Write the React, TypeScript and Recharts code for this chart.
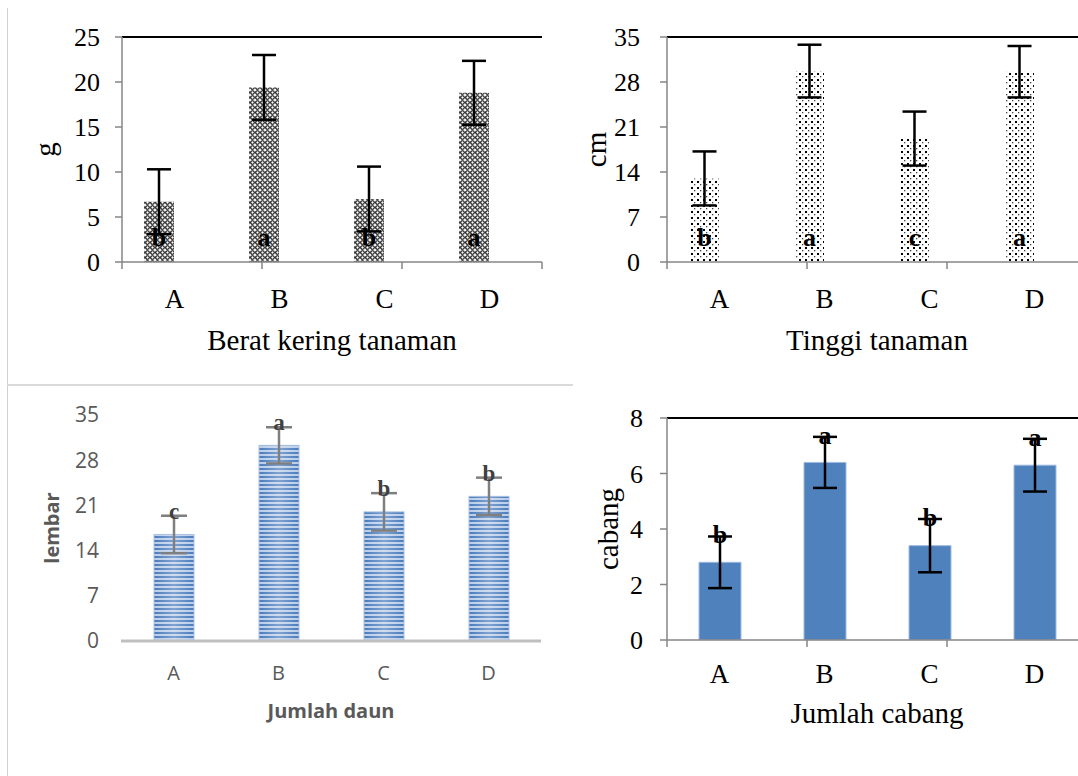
import React from 'react';
import { BarChart, Bar, XAxis, YAxis, ErrorBar, LabelList, Label, ReferenceLine } from 'recharts';

const categories = ['A', 'B', 'C', 'D'];

// Berat kering tanaman (g)
const beratValues = [6.7, 19.4, 7.0, 18.8];
const beratErrors = [3.6, 3.6, 3.6, 3.55];
const beratNotes = ['b', 'a', 'b', 'a'];
const beratTicks = [0, 5, 10, 15, 20, 25];

// Tinggi tanaman (cm)
const tinggiValues = [13.0, 29.7, 19.2, 29.6];
const tinggiErrors = [4.2, 4.1, 4.2, 4.0];
const tinggiNotes = ['b', 'a', 'c', 'a'];
const tinggiTicks = [0, 7, 14, 21, 28, 35];

// Jumlah daun (lembar)
const daunValues = [16.5, 30.3, 20.0, 22.4];
const daunErrors = [2.9, 2.8, 2.9, 2.9];
const daunNotes = ['c', 'a', 'b', 'b'];
const daunTicks = [0, 7, 14, 21, 28, 35];

// Jumlah cabang
const cabangValues = [2.8, 6.4, 3.4, 6.3];
const cabangErrors = [0.93, 0.92, 0.96, 0.95];
const cabangNotes = ['b', 'a', 'b', 'a'];
const cabangTicks = [0, 2, 4, 6, 8];

// category boundaries, for the tick marks between the bars
const boundaryTicks = [0, 1, 2, 3, 4];

const SERIF = '"Liberation Serif", "Times New Roman", serif';
const SANS = '"Open Sans", "Noto Sans", sans-serif';
const AXIS_GRAY = '#868686';

// empty second series of the original Excel charts (keeps the bars left of centre)
type Row = { name: string; value: number; err: number; note: string; ghost: number };

const makeRows = (values: number[], errors: number[], notes: string[]): Row[] =>
  categories.map((name, i) => ({ name, value: values[i], err: errors[i], note: notes[i], ghost: 0 }));

const noTick = () => <g />;

// letters of the significance test: 'bottom' = inside the bar, otherwise relative to the error bar top
const noteContent = (rows: Row[], mode: 'bottom' | 'err', offset: number, font: string, size: number, color: string) =>
  (p: any) => {
    const row = rows[p.index ?? 0];
    const x = Number(p.x) + Number(p.width) / 2;
    let y: number;
    if (mode === 'bottom') {
      y = Number(p.y) + Number(p.height) + offset;
    } else {
      const perUnit = Number(p.height) / row.value;
      y = Number(p.y) - row.err * perUnit + offset;
    }
    return (
      <text x={x} y={y} textAnchor="middle" fontFamily={font} fontSize={size} fontWeight="bold" fill={color}>
        {p.value}
      </text>
    );
  };

interface SerifPanelProps {
  id: string;
  rows: Row[];
  ticks: number[];
  yTitle: string;
  xTitle: string;
  left: number;
  top: number;
  width: number;
  height: number;
  plotTop: number;
  plotLeft: number;
  plotRight: number;
  xAxisHeight: number;
  barSize: number;
  ghost?: boolean;
  fill: string;
  stroke?: string;
  noteMode: 'bottom' | 'err';
  noteOffset: number;
  tickGap: number;
  labelDy: number;
  titleDy: number;
  yTitleDx: number;
  defs?: React.ReactNode;
}

const SerifPanel: React.FC<SerifPanelProps> = (props) => {
  const { rows, ticks } = props;
  const max = ticks[ticks.length - 1];
  return (
    <div style={{ position: 'absolute', left: props.left, top: props.top }}>
      <BarChart
        width={props.width}
        height={props.height}
        data={rows}
        barGap={2}
        margin={{ top: props.plotTop, right: props.width - props.plotRight, bottom: 0, left: 0 }}
      >
        {props.defs}
        <XAxis
          xAxisId="category"
          dataKey="name"
          axisLine={false}
          tickLine={false}
          tickSize={0}
          tickMargin={0}
          interval={0}
          height={props.xAxisHeight - 1}
          tick={(p: any) => (
            <text x={p.x} y={p.y + props.labelDy} textAnchor="middle" fontFamily={SERIF} fontSize={27} fill="#000">
              {p.payload.value}
            </text>
          )}
        >
          <Label
            content={(p: any) => (
              <text
                x={p.viewBox.x + p.viewBox.width / 2}
                y={p.viewBox.y + props.titleDy}
                textAnchor="middle"
                fontFamily={SERIF}
                fontSize={29}
                fill="#000"
              >
                {props.xTitle}
              </text>
            )}
          />
        </XAxis>
        <XAxis
          xAxisId="boundary"
          type="number"
          domain={[0, 4]}
          ticks={boundaryTicks}
          allowDataOverflow
          tick={noTick}
          tickLine={{ stroke: AXIS_GRAY, strokeWidth: 1.5 }}
          tickSize={7}
          height={1}
          stroke={AXIS_GRAY}
          strokeWidth={1.5}
        />
        <YAxis
          type="number"
          domain={[0, max]}
          ticks={ticks}
          allowDataOverflow
          interval={0}
          width={props.plotLeft}
          stroke={AXIS_GRAY}
          strokeWidth={1.5}
          tickSize={7}
          tickMargin={props.tickGap - 7}
          tick={(p: any) => (
            <text x={p.x} y={p.y} dy="0.35em" textAnchor="end" fontFamily={SERIF} fontSize={26} fill="#000">
              {p.payload.value}
            </text>
          )}
        >
          <Label
            content={(p: any) => {
              const cx = p.viewBox.x + p.viewBox.width - props.yTitleDx;
              const cy = p.viewBox.y + p.viewBox.height / 2;
              return (
                <text
                  transform={`translate(${cx},${cy}) rotate(-90)`}
                  dy="0.35em"
                  textAnchor="middle"
                  fontFamily={SERIF}
                  fontSize={29}
                  fill="#000"
                >
                  {props.yTitle}
                </text>
              );
            }}
          />
        </YAxis>
        <ReferenceLine xAxisId="boundary" y={max} stroke="#000" strokeWidth={2} />
        <ReferenceLine xAxisId="boundary" x={4} stroke="#000" strokeWidth={2} />
        <Bar
          xAxisId="category"
          dataKey="value"
          fill={props.fill}
          stroke={props.stroke ?? 'none'}
          barSize={props.barSize}
          isAnimationActive={false}
        >
          <ErrorBar dataKey="err" width={12} strokeWidth={2.5} stroke="#000" />
          <LabelList dataKey="note" content={noteContent(rows, props.noteMode, props.noteOffset, SERIF, 26, '#000')} />
        </Bar>
        {props.ghost && (
          <Bar xAxisId="category" dataKey="ghost" fill="none" barSize={props.barSize} isAnimationActive={false} />
        )}
      </BarChart>
    </div>
  );
};

const StripedBar = (p: any) => {
  const { x, y, width, height } = p;
  if (!height || height <= 0) return null;
  return (
    <g>
      <rect x={x} y={y} width={width} height={height} fill="url(#daunStripes)" />
      <rect x={x} y={y} width={width} height={height} fill="url(#daunShine)" />
      <rect x={x} y={y} width={width} height={height} fill="none" stroke="#a9c1e3" strokeWidth={1} />
    </g>
  );
};

const DaunPanel: React.FC = () => {
  const rows = makeRows(daunValues, daunErrors, daunNotes);
  return (
    <div style={{ position: 'absolute', left: 0, top: 380 }}>
      <BarChart width={560} height={396} data={rows} margin={{ top: 35, right: 19, bottom: 0, left: 0 }}>
        <defs>
          <pattern id="daunStripes" width="6" height="4" patternUnits="userSpaceOnUse">
            <rect width="6" height="4" fill="#b9cde9" />
            <rect width="6" height="2" fill="#4a7bbd" />
          </pattern>
          <linearGradient id="daunShine" x1="0" y1="0" x2="1" y2="0">
            <stop offset="0" stopColor="#ffffff" stopOpacity={0} />
            <stop offset="0.5" stopColor="#ffffff" stopOpacity={0.3} />
            <stop offset="1" stopColor="#ffffff" stopOpacity={0} />
          </linearGradient>
        </defs>
        <XAxis
          dataKey="name"
          stroke="#bfbfbf"
          strokeWidth={3}
          tickLine={false}
          tickSize={0}
          tickMargin={0}
          interval={0}
          height={135}
          tick={(p: any) => (
            <text x={p.x} y={p.y + 39} textAnchor="middle" fontFamily={SANS} fontSize={20} fill="#595959">
              {p.payload.value}
            </text>
          )}
        >
          <Label
            content={(p: any) => (
              <text
                x={p.viewBox.x + p.viewBox.width / 2}
                y={p.viewBox.y + 77}
                textAnchor="middle"
                fontFamily={SANS}
                fontSize={20}
                fontWeight="bold"
                fill="#595959"
              >
                Jumlah daun
              </text>
            )}
          />
        </XAxis>
        <YAxis
          type="number"
          domain={[0, 35]}
          ticks={daunTicks}
          allowDataOverflow
          interval={0}
          width={121}
          axisLine={false}
          tickLine={false}
          tickSize={0}
          tickMargin={22}
          tick={(p: any) => (
            <text x={p.x} y={p.y} dy="0.35em" textAnchor="end" fontFamily={SANS} fontSize={21} fill="#595959">
              {p.payload.value}
            </text>
          )}
        >
          <Label
            content={(p: any) => {
              const cx = p.viewBox.x + p.viewBox.width - 69;
              const cy = p.viewBox.y + p.viewBox.height / 2;
              return (
                <text
                  transform={`translate(${cx},${cy}) rotate(-90)`}
                  dy="0.35em"
                  textAnchor="middle"
                  fontFamily={SANS}
                  fontSize={20}
                  fontWeight="bold"
                  fill="#595959"
                >
                  lembar
                </text>
              );
            }}
          />
        </YAxis>
        <Bar dataKey="value" barSize={40} shape={<StripedBar />} isAnimationActive={false}>
          <ErrorBar dataKey="err" width={13} strokeWidth={2.5} stroke="#7f7f7f" />
          <LabelList dataKey="note" content={noteContent(rows, 'err', 3, SERIF, 23, '#404040')} />
        </Bar>
      </BarChart>
    </div>
  );
};

const App: React.FC = () => {
  const beratRows = makeRows(beratValues, beratErrors, beratNotes);
  const tinggiRows = makeRows(tinggiValues, tinggiErrors, tinggiNotes);
  const cabangRows = makeRows(cabangValues, cabangErrors, cabangNotes);

  return (
    <div
      style={{
        position: 'absolute',
        left: 0,
        top: 0,
        width: 1078,
        height: 776,
        overflow: 'hidden',
        background: '#fff',
      }}
    >
      {/* page frame lines around the left panels */}
      <div style={{ position: 'absolute', left: 7, top: 8, width: 1, height: 768, background: '#d0d0d0' }} />
      <div style={{ position: 'absolute', left: 7, top: 384, width: 566, height: 2, background: '#dadada' }} />

      <SerifPanel
        id="berat"
        rows={beratRows}
        ticks={beratTicks}
        yTitle="g"
        xTitle="Berat kering tanaman"
        left={0}
        top={0}
        width={560}
        height={380}
        plotTop={37}
        plotLeft={122}
        plotRight={542}
        xAxisHeight={118}
        barSize={30}
        ghost
        fill="url(#beratPattern)"
        noteMode="bottom"
        noteOffset={-16}
        tickGap={22}
        labelDy={45}
        titleDy={87}
        yTitleDx={77}
        defs={
          <defs>
            <pattern id="beratPattern" width="5" height="5" patternUnits="userSpaceOnUse">
              <rect width="5" height="5" fill="#ffffff" />
              <circle cx="2.5" cy="2.5" r="1.8" fill="none" stroke="#000" strokeWidth="1.1" />
            </pattern>
          </defs>
        }
      />

      <SerifPanel
        id="tinggi"
        rows={tinggiRows}
        ticks={tinggiTicks}
        yTitle="cm"
        xTitle="Tinggi tanaman"
        left={540}
        top={0}
        width={570}
        height={380}
        plotTop={37}
        plotLeft={127}
        plotRight={547}
        xAxisHeight={118}
        barSize={29}
        ghost
        fill="url(#tinggiPattern)"
        noteMode="bottom"
        noteOffset={-16}
        tickGap={27}
        labelDy={45}
        titleDy={87}
        yTitleDx={71}
        defs={
          <defs>
            <pattern id="tinggiPattern" width="6" height="6" patternUnits="userSpaceOnUse">
              <rect width="6" height="6" fill="#ffffff" />
              <rect x="1" y="1" width="2" height="2" fill="#000" />
              <rect x="4" y="4" width="1.3" height="1.3" fill="#444" />
            </pattern>
          </defs>
        }
      />

      <DaunPanel />

      <SerifPanel
        id="cabang"
        rows={cabangRows}
        ticks={cabangTicks}
        yTitle="cabang"
        xTitle="Jumlah cabang"
        left={540}
        top={380}
        width={570}
        height={396}
        plotTop={38}
        plotLeft={127}
        plotRight={547}
        xAxisHeight={136}
        barSize={42}
        fill="#4f81bd"
        stroke="#9fbbe0"
        noteMode="err"
        noteOffset={7}
        tickGap={24}
        labelDy={42}
        titleDy={82}
        yTitleDx={59}
      />
    </div>
  );
};

export default App;
